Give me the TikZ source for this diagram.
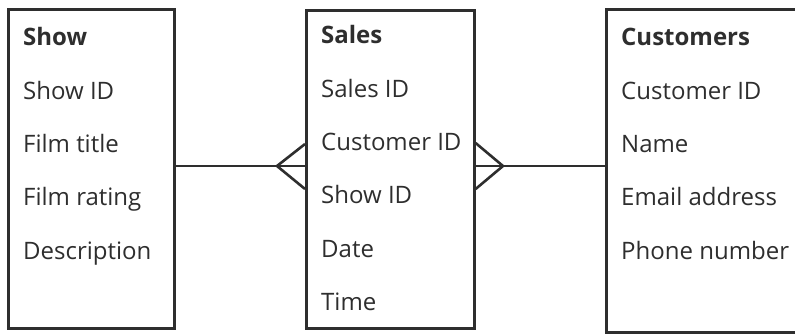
\documentclass[tikz,border=0pt]{standalone}
\usepackage{fontspec}
\setmainfont{Open Sans}
\definecolor{ink}{HTML}{2E2E2E}
\begin{document}
\begin{tikzpicture}[x=1pt,y=1pt,
  tbl/.style={draw=ink, line width=2.6pt, rectangle, anchor=north west, inner sep=0pt},
  hdr/.style={anchor=base west, inner sep=0pt, text=ink, font=\fontsize{24}{28}\selectfont\bfseries},
  fld/.style={anchor=base west, inner sep=0pt, text=ink, font=\fontsize{24}{28}\selectfont},
  rel/.style={draw=ink, line width=2.6pt}]
\useasboundingbox (0,0) rectangle (795,-333);
% boxes
\node[tbl, minimum width=166pt, minimum height=319pt] (show) at (7,-8) {};
\node[tbl, minimum width=168pt, minimum height=318pt] (sales) at (305,-9) {};
\node[tbl, minimum width=200pt, minimum height=323pt] (cust) at (605,-8) {};
% Show
\node[hdr] (s0) at (23,-45) {Show};
\node[fld] (s1) at (23,-99) {Show ID};
\node[fld] (s2) at (23,-152) {Film title};
\node[fld] (s3) at (23,-205) {Film rating};
\node[fld] (s4) at (23,-259) {Description};
% Sales
\node[hdr] (a0) at (321,-43) {Sales};
\node[fld] (a1) at (321,-97) {Sales ID};
\node[fld] (a2) at (321,-150) {Customer ID};
\node[fld] (a3) at (321,-203) {Show ID};
\node[fld] (a4) at (321,-257) {Date};
\node[fld] (a5) at (321,-310) {Time};
% Customers
\node[hdr] (c0) at (621,-45) {Customers};
\node[fld] (c1) at (621,-99) {Customer ID};
\node[fld] (c2) at (621,-152) {Name};
\node[fld] (c3) at (621,-205) {Email address};
\node[fld] (c4) at (621,-259) {Phone number};
% connectors
\coordinate (lapex) at (277,-166);
\coordinate (rapex) at (503,-166);
\draw[rel] (show.east |- lapex) -- (sales.west |- lapex);
\draw[rel] (sales.west |- 0,-144) -- (lapex) -- (sales.west |- 0,-189);
\draw[rel] (sales.east |- rapex) -- (cust.west |- rapex);
\draw[rel] (sales.east |- 0,-143) -- (rapex) -- (sales.east |- 0,-189);
\end{tikzpicture}
\end{document}
